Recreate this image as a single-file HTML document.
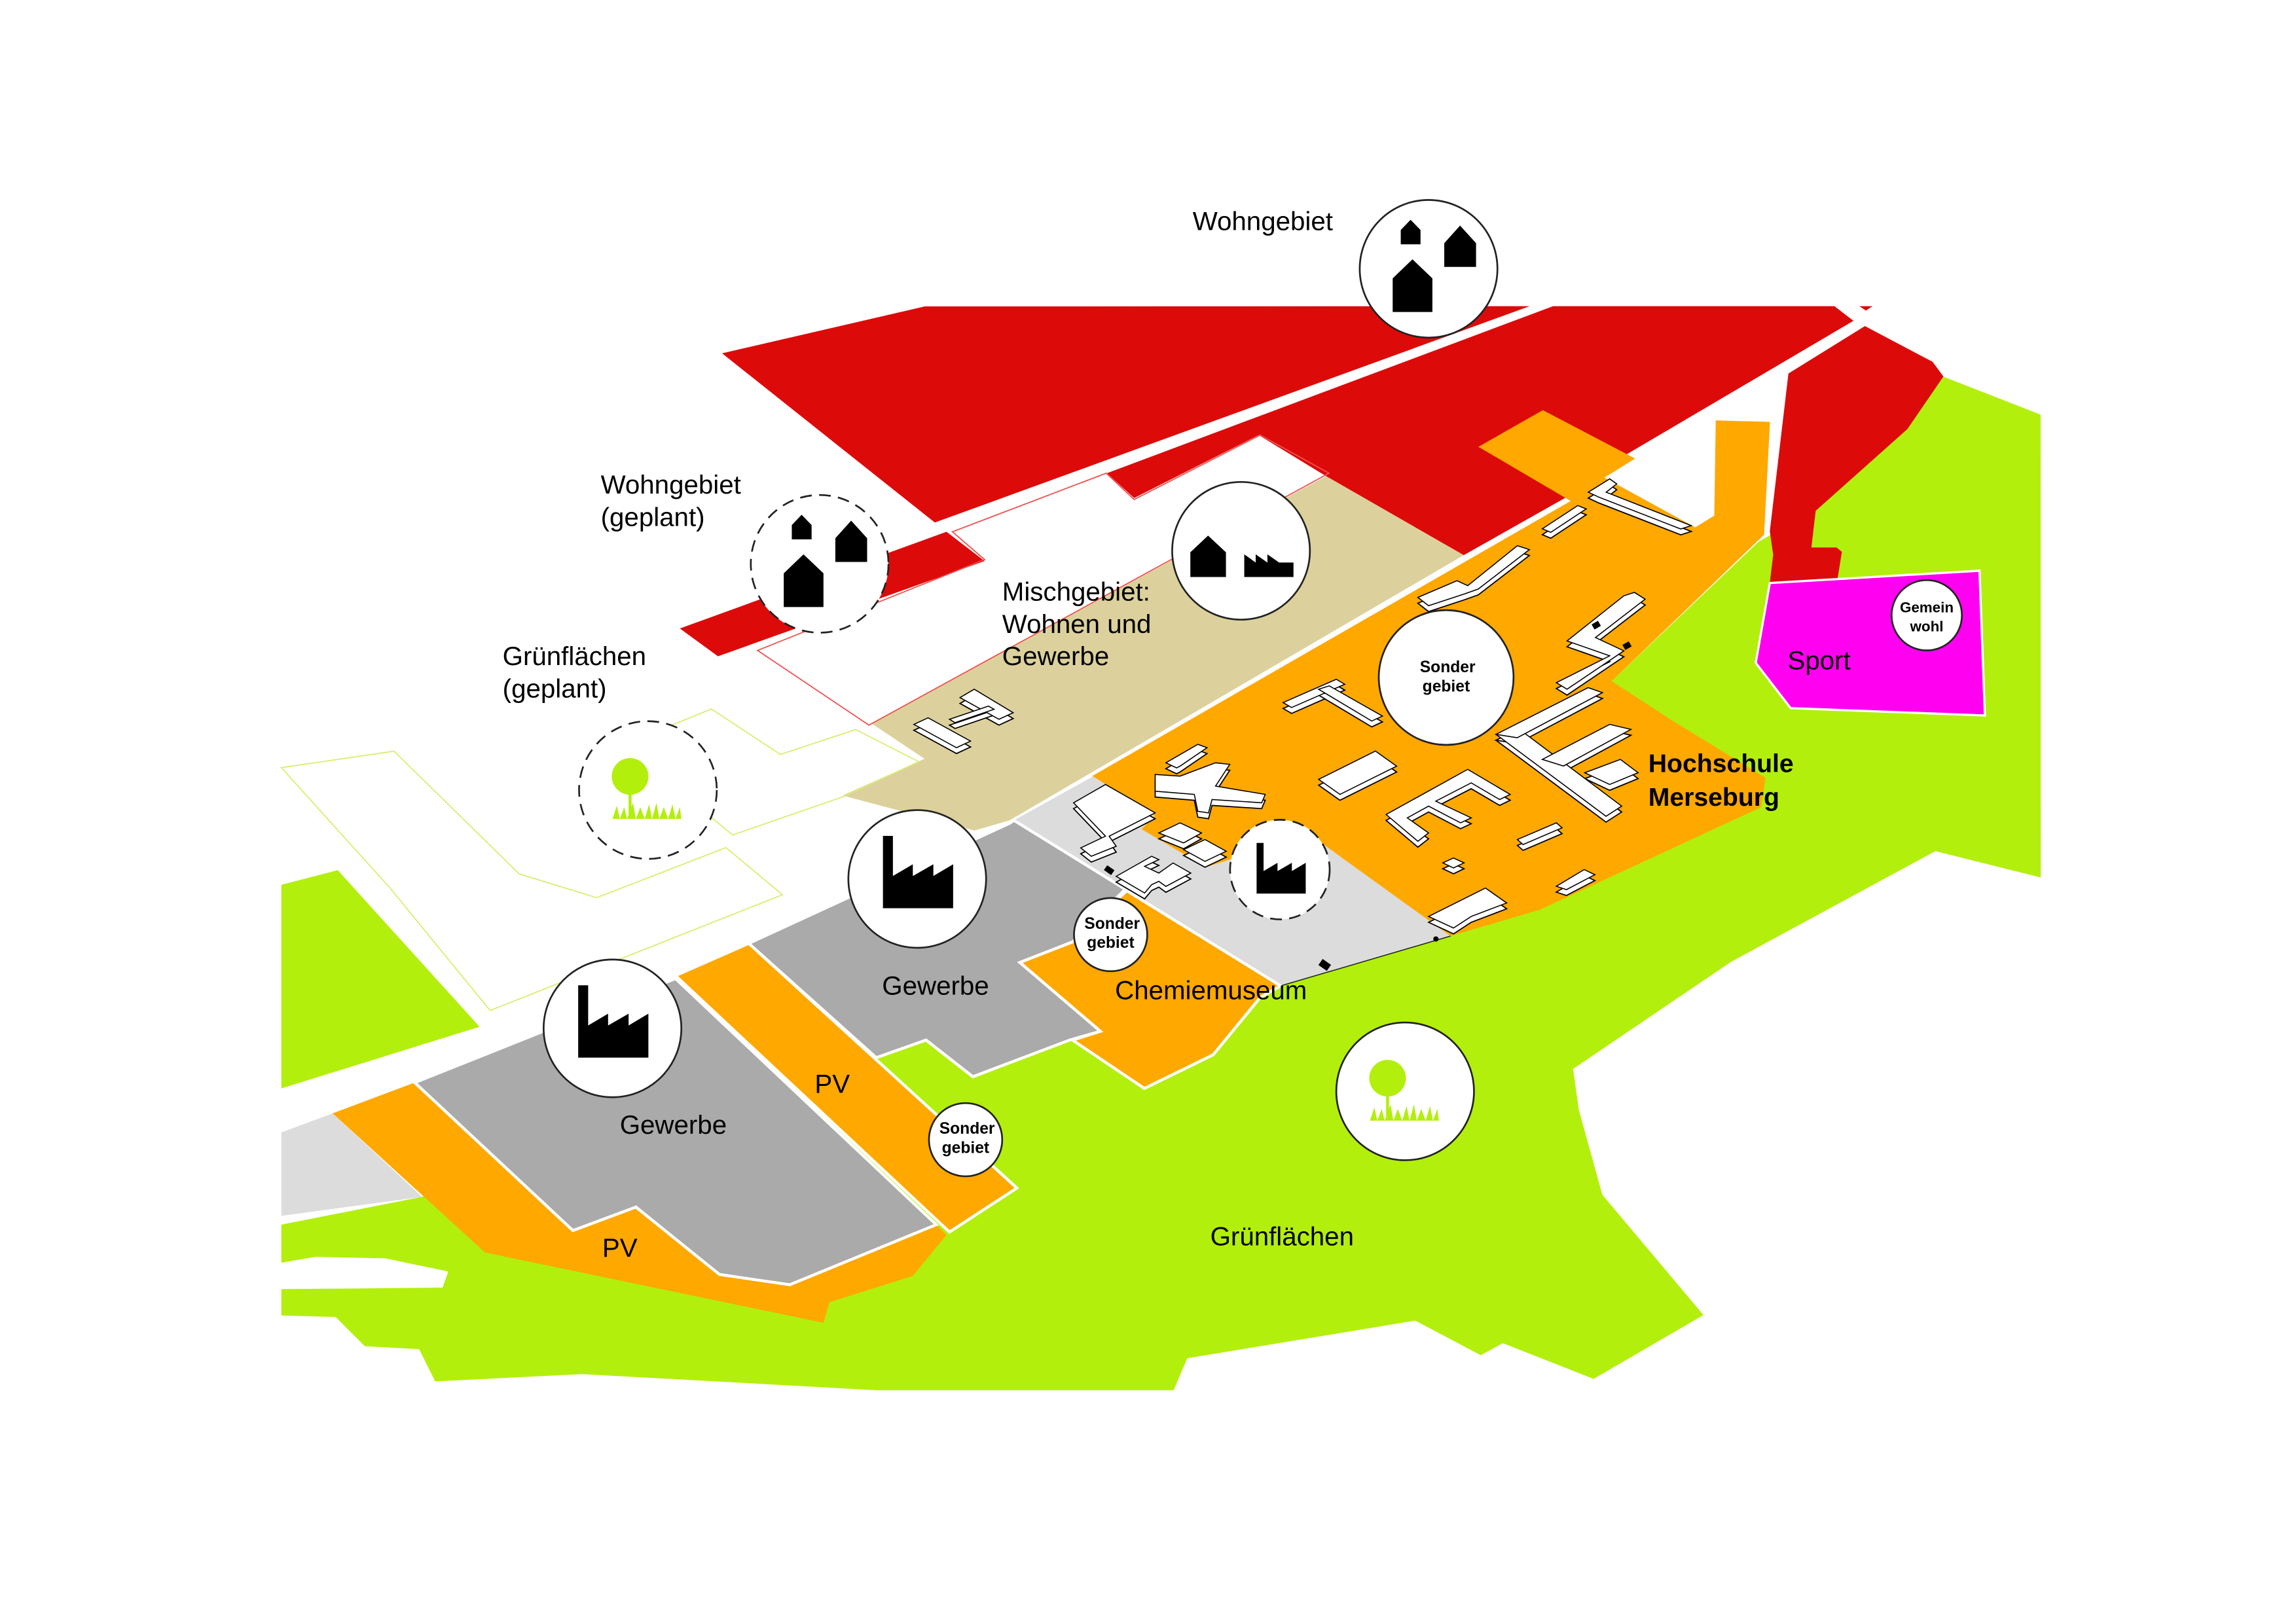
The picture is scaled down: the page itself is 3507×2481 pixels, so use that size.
<!DOCTYPE html>
<html><head><meta charset="utf-8"><style>html,body{margin:0;padding:0;background:#fff}svg{display:block}text{font-family:"Liberation Sans","DejaVu Sans",sans-serif}</style></head><body>
<svg width="3507" height="2481" viewBox="0 0 1567 1108.6" xmlns="http://www.w3.org/2000/svg">
<defs>
<path id="fact" d="M-23.4,20 V-29.4 H-16.6 V-2 L-3,-10 V-2 L11,-10 V-2 L24.5,-10 V20 Z" fill="#000"/>
<g id="tree"><circle cx="-12" cy="-9" r="12.5" fill="#b3ef0c"/><rect x="-13" y="2" width="2" height="18" fill="#b3ef0c"/><path d="M-24,20 L-21,11 L-19,20 L-16,12 L-14,20 L-10,9 L-8,20 L-5,12 L-2,20 L1,10 L3,20 L6,9 L8,20 L11,12 L14,20 L17,10 L19,20 L22,12 L23,20 Z" fill="#b3ef0c"/></g>
<g id="houses">
<polygon points="950.5,213 950.5,190 964,177 977.6,190 977.6,213" fill="#000"/>
<polygon points="956,166.8 956,157 962.7,150 969.5,157 969.5,166.8" fill="#000"/>
<polygon points="985.7,182.2 985.7,166 996.5,154 1007.4,166 1007.4,182.2" fill="#000"/>
</g>
<g id="bld">
<polygon points="623.7,494.5 633.4,490 662.4,505.9 652.8,510.4"/>
<polygon points="655.2,476.2 664.9,470.5 691.5,486.5 681.8,491"/>
<polygon points="648,491 674.6,482 678.4,484.2 651.8,493.3"/>
<polygon points="875.7,479.6 912,463.7 917.8,467.1 881.5,483"/>
<polygon points="899.9,470.5 907.2,468.2 943.5,488.8 936.2,492.2"/>
<polygon points="967.7,407.8 994.4,396.4 1001.7,399.8 1035.6,372.5 1043.8,375.2 1008.9,402.1 999.3,405.5 975,413.5"/>
<polygon points="1052.6,361 1076.8,345.1 1082.6,347.4 1058.4,363.4"/>
<polygon points="1084,336 1098.6,326.9 1103.4,330.3 1096.2,336 1154.3,358.8 1147.1,361.1 1091.3,339.4"/>
<polygon points="1062.2,466 1098.6,447.7 1069.5,437.5 1108.3,406.7 1115.5,404.4 1122.8,409 1088.9,435.2 1108.3,444.3 1069.5,470.5"/>
<polygon points="1021,501.3 1035.5,496.7 1106.8,550.3 1096.1,557.2"/>
<polygon points="1021,501.3 1083.9,469.4 1093.7,472.8 1035.5,503.6"/>
<polygon points="1052.6,518.4 1098.6,494.5 1113.1,497.9 1067.1,522.9"/>
<polygon points="1081.6,527.5 1105.9,518.4 1118,527.5 1098.6,535.5"/>
<polygon points="900,532 938.7,512.7 953.2,523 914.5,542.3"/>
<polygon points="946,556 1001.7,525.2 1030.7,542.3 1023.5,545.8 1004.1,534.4 979.9,546.9 1004.1,558.3 996.8,561.7 975,550.3 960.5,558.3 975,568.6 967.7,574.3"/>
<polygon points="1035.6,573.1 1062.2,561.7 1066.1,565.1 1039.5,576.5"/>
<polygon points="984.7,589 992,585.7 999.2,589 992,592.5"/>
<polygon points="1062.2,605 1081.2,593.6 1088.5,597.1 1069.1,607.3"/>
<polygon points="975,625.6 1013.8,606.2 1028.3,616.4 1004.1,625.6 992,633.5"/>
<polygon points="788.4,528.7 805.4,529.8 829.6,520.7 839.3,521.8 829.6,536.6 863.5,542.3 861.1,548 827.2,545.8 824.8,554.9 817.5,553.8 815.1,542.3 788.4,540.1"/>
<polygon points="795.7,520.7 817.5,508.1 823.8,510.4 805.4,523 803,524.2"/>
<polygon points="732.7,548 754.5,535.5 788.4,554.9 757,570.8 761.8,577.7 744.8,584.5 737.6,578.8 754.5,570.8"/>
<polygon points="790.9,568.6 805.4,561.7 820,568.6 807.8,575.4"/>
<polygon points="807.8,580 822.4,573.1 836.9,581.1 822.4,588"/>
<polygon points="761.8,598.2 786,584.5 790.9,586.8 781.2,591.4 790.9,596 800.6,589.1 812.7,596 795.7,605.1 790.9,601.6 786,603.9 781.2,609.6"/>
</g>
</defs>
<rect width="1567" height="1109" fill="#fff"/>
<!-- green -->
<polygon fill="#b3ef0c" points="1326,257 1392.7,283 1392.8,599 1320.9,581 1181.4,656.6 1073.6,729.7 1077.6,757.9 1093.6,815.6 1162.6,897.7 1087.6,941.3 1025.7,916.9 1010.6,925.1 965.9,901.5 810.3,927.2 801,949 598,949 397,938 297,943 286,921 249,919 229,899 192,898 192,880 302,879 306,868 263,859 215,858 192,862 192,836 288,817 600,700 700,650 1000,560 1200,370 1238,348"/>
<polygon fill="#b3ef0c" points="192,604 230.5,594 327.3,700.9 192,743"/>
<!-- red -->
<polygon fill="#dd0a0a" points="492.8,241.2 631,209.2 1044,209 638,356.7"/>
<polygon fill="#dd0a0a" points="1060,209 1252,209 1265,219 1107,312 1068,340 999,379 905,325 859,297 774,340 755.5,323"/>
<polygon fill="#dd0a0a" points="1220.6,255 1272.8,222.6 1319,247 1326.4,257 1301.8,292.9 1239.2,348.7 1236.3,373.7 1253.4,373.7 1257.1,376.7 1253.4,399.6 1207.9,397.6 1210.2,378.7 1207.9,362.7"/>
<polygon fill="#dd0a0a" points="1269,209 1278,209 1273.5,212"/>
<polygon fill="#dd0a0a" points="464,429 646,363 672,383 490,448"/>
<!-- tan -->
<polygon fill="#dcd19c" points="905,325 999,379 689,560 665,567 575,543 631,518 595,494"/>
<!-- orange campus -->
<polygon fill="#ffa800" points="745,530 1072,342 1009,305 1053,280 1116,313 1095,326 1157,360 1170,352 1171,287 1208,288 1204,365 1100,465 1140,491 1205,531 1202,551 1051,621 990,639 904,577 845,585 823,592 779,566 788,557 746,530"/>
<!-- light gray -->
<polygon fill="#dcdcdc" points="692,560 746,530 788,557 779,566 823,592 845,585 904,577 990,639 874,673"/>
<polyline fill="none" stroke="#222" stroke-width="0.7" points="874,673 990,639"/>
<!-- chemiemuseum orange -->
<polygon fill="#ffa800" stroke="#fff" stroke-width="2" points="696,657 732,643 769,608 874,673 860,681 828,720 781,743 732,710 751,704"/>
<!-- gray upper -->
<polygon fill="#aaa" stroke="#fff" stroke-width="2" points="511,644 689,562 692,560 768,607 732,643 696,657 751,704 730,710 664,735 632,710 598,722"/>
<!-- PV upper -->
<polygon fill="#ffa800" stroke="#fff" stroke-width="2" points="461,666 511,644 694,811 648,841"/>
<!-- lower -->
<polygon fill="#dcdcdc" points="192,773 227,760 288,817 192,830"/>
<polygon fill="#ffa800" points="227,760 283,739 391,840 434,824 491,870 539,877 639,836 646,843 623,871 566,889 562,903 331,855"/>
<polygon fill="#aaa" stroke="#fff" stroke-width="2" points="283,739 461,668 639,836 539,877 491,870 434,824 391,840"/>
<!-- magenta -->
<polygon fill="#ff00f0" stroke="#fff" stroke-width="1.5" points="1207.9,398 1351,389.6 1354.7,488.4 1222.1,483.4 1198.3,452.5"/>
<!-- outlines -->
<polygon fill="none" stroke="#f05050" stroke-width="0.8" points="593,495 517,444 672,382 650,363 755,323 774,341 860,297 907,323"/>
<polygon fill="none" stroke="#d8ee70" stroke-width="0.8" points="192,524 268.9,512.8 354.4,596.6 407.2,612.8 495.5,578.6 534,610.8 334.5,689.8 266,606"/>
<polygon fill="none" stroke="#d8ee70" stroke-width="0.8" points="458.5,495 485.5,484 532.6,515 584,498 627,520 575,544 500,570 485.5,558"/>
<!-- buildings -->
<use href="#bld" transform="translate(0,4)" fill="#fff" stroke="#000" stroke-width="0.8"/>
<use href="#bld" fill="#fff" stroke="#000" stroke-width="0.7"/>
<g fill="#000">
<rect x="1087" y="425" width="5" height="4" transform="rotate(-30 1089 427)"/>
<rect x="1108" y="439" width="5" height="4" transform="rotate(-30 1110 441)"/>
<rect x="754" y="592" width="6" height="4" transform="rotate(35 757 594)"/>
<rect x="901" y="656" width="7" height="5" transform="rotate(35 904 658)"/>
<circle cx="980" cy="641" r="1.8"/>
</g>
<!-- circles -->
<g stroke="#222" stroke-width="1.2" fill="#fff">
<circle cx="975" cy="183.5" r="47"/>
<circle cx="847" cy="376" r="47"/>
<circle cx="559.4" cy="384.9" r="47" stroke-dasharray="8,5"/>
<circle cx="442.2" cy="539.3" r="47" stroke-dasharray="8,5"/>
<circle cx="987" cy="462.5" r="46"/>
<circle cx="626" cy="600" r="47"/>
<circle cx="873.5" cy="593.6" r="34" stroke-dasharray="8,5"/>
<circle cx="758" cy="638" r="25"/>
<circle cx="659" cy="778" r="25"/>
<circle cx="418" cy="702" r="47"/>
<circle cx="959" cy="745" r="47"/>
<circle cx="1315" cy="420" r="24"/>
</g>
<use href="#houses"/>
<use href="#houses" transform="translate(-415.6,201.4)"/>
<polygon points="812.4,393.9 812.4,377 824.5,365.6 836.7,377 836.7,393.9" fill="#000"/>
<path d="M849.2,393.9 V378.4 L857,384 V378.4 L865,384 V378.4 L873,384 L882.8,384 V393.9 Z" fill="#000"/>
<use href="#fact" transform="translate(626,600)"/>
<use href="#fact" transform="translate(874,596) scale(0.7)"/>
<use href="#fact" transform="translate(418,702)"/>
<use href="#tree" transform="translate(442,539)"/>
<use href="#tree" transform="translate(959,745)"/>
<!-- labels -->
<g font-size="18" fill="#000">
<text x="814" y="157">Wohngebiet</text>
<text x="410" y="337">Wohngebiet</text><text x="410" y="359">(geplant)</text>
<text x="343" y="454">Grünflächen</text><text x="343" y="476">(geplant)</text>
<text x="684" y="410">Mischgebiet:</text><text x="684" y="432">Wohnen und</text><text x="684" y="454">Gewerbe</text>
<text x="602" y="679">Gewerbe</text>
<text x="761" y="682">Chemiemuseum</text>
<text x="423" y="774">Gewerbe</text>
<text x="556" y="746">PV</text>
<text x="411" y="858">PV</text>
<text x="826" y="850">Grünflächen</text>
<text x="1220" y="457">Sport</text>
<text x="1125" y="527" font-weight="bold" font-size="17.5">Hochschule</text><text x="1125" y="550" font-weight="bold" font-size="17.5">Merseburg</text>
</g>
<g font-size="11" font-weight="bold" text-anchor="middle" fill="#000">
<text x="988" y="459">Sonder</text><text x="987" y="472">gebiet</text>
<text x="759" y="634">Sonder</text><text x="758" y="647">gebiet</text>
<text x="660" y="774">Sonder</text><text x="659" y="787">gebiet</text>
<text x="1315" y="418" font-size="10">Gemein</text><text x="1315" y="431" font-size="10">wohl</text>
</g>
</svg>
</body></html>
